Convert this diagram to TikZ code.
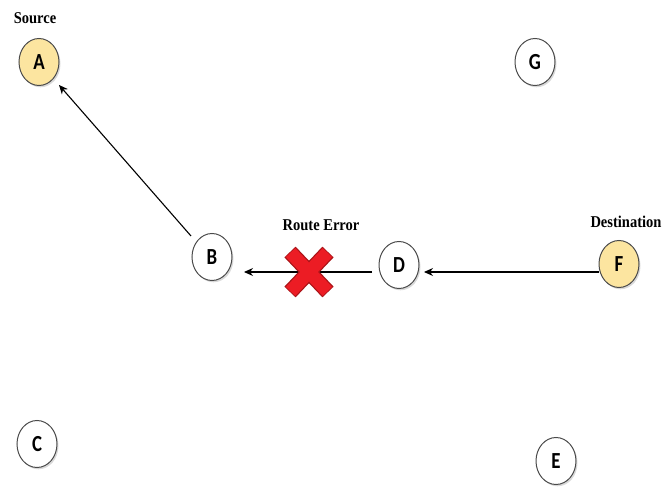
\documentclass[tikz,border=0pt]{standalone}
\usepackage{fontspec}
\setmainfont{Liberation Serif}
\newfontfamily\letterfont[FakeStretch=0.82]{Carlito}
\newfontfamily\tagfont[FakeStretch=0.88]{Liberation Serif}
\usetikzlibrary{shapes.geometric,shadows,arrows.meta}
\definecolor{nodeline}{RGB}{75,75,75}
\definecolor{srcfill}{RGB}{252,229,160}
\definecolor{crossred}{RGB}{236,28,36}
\definecolor{crossrim}{RGB}{170,20,24}
\tikzset{
  station/.style={ellipse, draw=nodeline, line width=1pt, fill=white,
    minimum width=40pt, minimum height=47pt, inner sep=0pt,
    font=\letterfont\bfseries\fontsize{23}{23}\selectfont,
    drop shadow={opacity=0.3, shadow xshift=1.5pt, shadow yshift=-1.8pt}},
  endpoint/.style={station, fill=srcfill},
  tag/.style={font=\tagfont\bfseries\fontsize{16.5}{16.5}\selectfont},
  arr/.style={draw=black, line width=1.1pt, -{Stealth[length=9pt,width=8pt]}},
  crossrimline/.style={draw=crossrim, line width=15.5pt},
  crossline/.style={draw=crossred, line width=13pt}
}
\begin{document}
\begin{tikzpicture}[x=1pt,y=-1pt]
  \useasboundingbox (0,0) rectangle (665,489);

  % stations
  \node[endpoint] (A) at (39,62) {A};
  \node[station]  (G) at (535,62) {G};
  \node[station]  (B) at (212,257) {B};
  \node[station]  (D) at (399,265) {D};
  \node[endpoint] (F) at (619,264) {F};
  \node[station]  (C) at (37,444) {C};
  \node[station]  (E) at (556,461) {E};

  % role labels
  \node[tag] (src) at (35,18) {Source};
  \node[tag] (dst) at (626,222) {Destination};
  \node[tag] (err) at (321,225) {Route Error};

  % free ends of the connectors
  \coordinate (bA) at (191,236);
  \coordinate (aB) at (59,85);
  \coordinate (dB) at (372,272);
  \coordinate (bD) at (244,272);
  \coordinate (fD) at (599,272);
  \coordinate (dF) at (424,272);

  % route reply path
  \draw[arr] (fD) -- (dF);
  \draw[arr] (dB) -- (bD);
  \draw[arr] (bA) -- (aB);

  % broken link marker
  \coordinate (x) at (309,272);
  \draw[crossrimline] ([shift={(-19,-20)}]x) -- ([shift={(19,20)}]x);
  \draw[crossrimline] ([shift={(19,-20)}]x) -- ([shift={(-19,20)}]x);
  \draw[crossline] ([shift={(-18.4,-19.4)}]x) -- ([shift={(18.4,19.4)}]x);
  \draw[crossline] ([shift={(18.4,-19.4)}]x) -- ([shift={(-18.4,19.4)}]x);
\end{tikzpicture}
\end{document}
